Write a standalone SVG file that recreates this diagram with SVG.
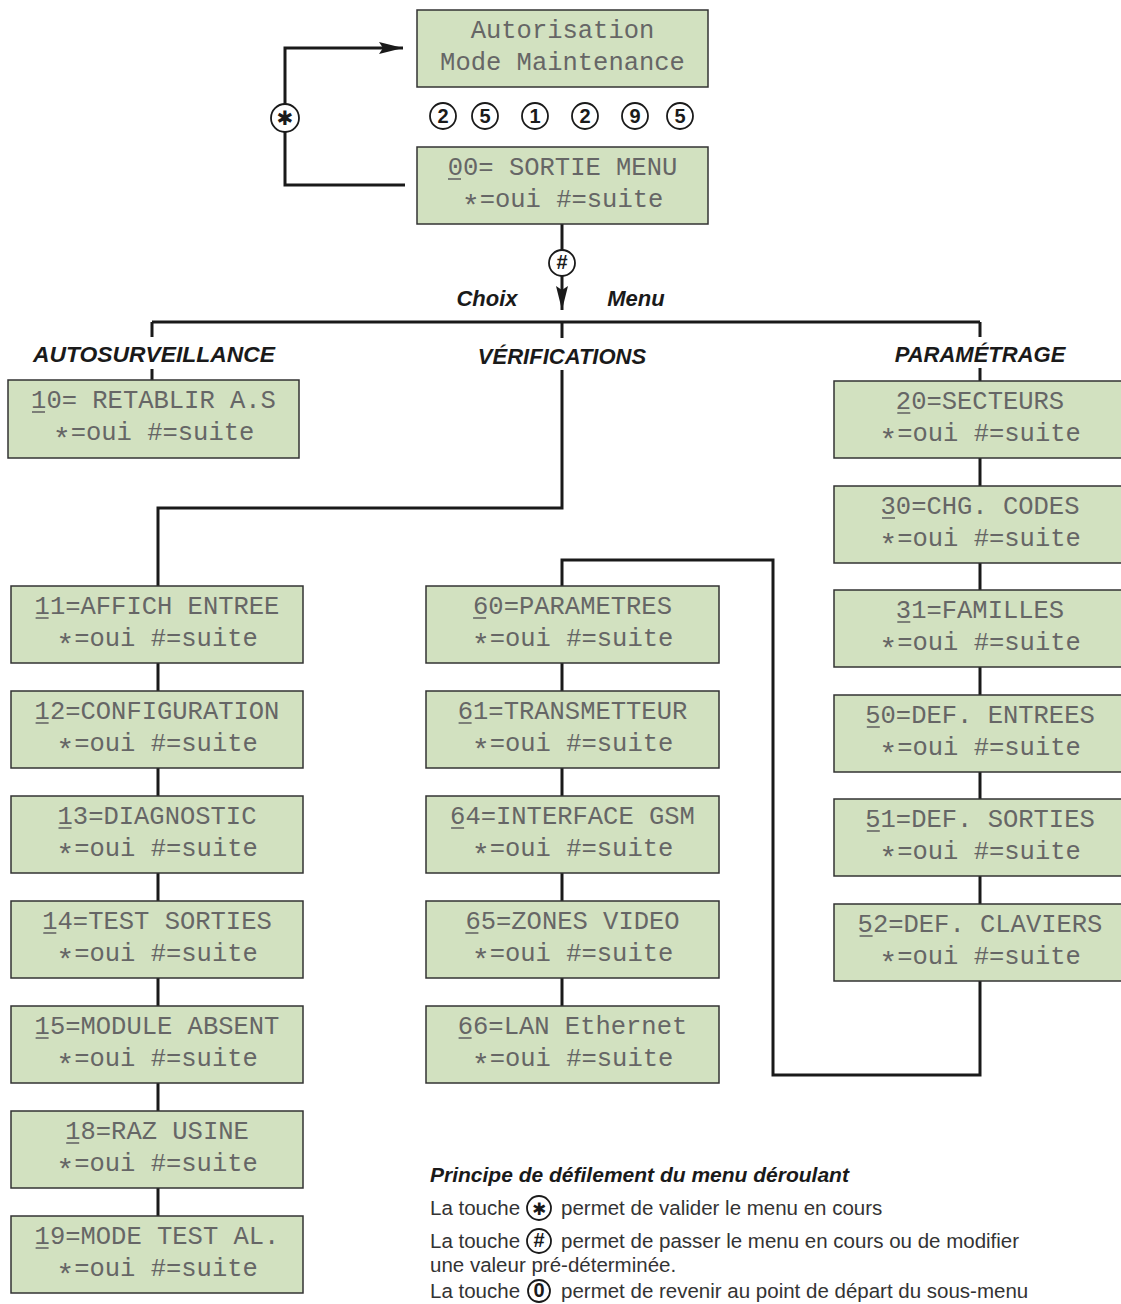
<svg xmlns="http://www.w3.org/2000/svg" width="1121" height="1304" viewBox="0 0 1121 1304">
<style>
.box{fill:#d2e1c0;stroke:#333;stroke-width:1.5}
.lcd{font-family:"Liberation Mono","DejaVu Sans Mono",monospace;font-size:25.5px;fill:#666;text-anchor:middle}
.ast{font-size:30px}
.ul{stroke:#666;stroke-width:1.6}
.con{fill:none;stroke:#1a1a1a;stroke-width:3}
.hd{font-family:"Liberation Sans",Arial,sans-serif;font-weight:bold;font-style:italic;font-size:22px;fill:#1a1a1a;text-anchor:middle}
.key{fill:#fff;stroke:#1a1a1a;stroke-width:1.8}
.kt{font-family:"Liberation Sans",Arial,sans-serif;font-weight:bold;font-size:20px;fill:#1a1a1a;text-anchor:middle}
.body{font-family:"Liberation Sans",Arial,sans-serif;font-size:20.5px;fill:#333}
.bt{font-family:"Liberation Sans",Arial,sans-serif;font-size:21px;font-weight:bold;font-style:italic;fill:#1a1a1a}
</style>
<defs>
<marker id="ah" viewBox="0 0 24 12" refX="24" refY="6" markerWidth="24" markerHeight="12" markerUnits="userSpaceOnUse" orient="auto">
<path d="M0,0 L24,6 L0,12 L4,6 Z" fill="#1a1a1a"/>
</marker>
</defs>

<g id="connectors">
<path class="con" d="M405,185 H285 V48 H403" marker-end="url(#ah)"/>
<path class="con" d="M562,224 V250"/>
<path class="con" d="M562,276 V310" marker-end="url(#ah)"/>
<path class="con" d="M152,322 H980"/>
<path class="con" d="M562,322 V338"/>
<path class="con" d="M152,322 V337 M152,369 V380"/>
<path class="con" d="M980,322 V337 M980,368 V381"/>
<path class="con" d="M562,370 V508 H158 V586"/>
<path class="con" d="M158,663 V691 M158,768 V796 M158,873 V901 M158,978 V1006 M158,1083 V1111 M158,1188 V1216"/>
<path class="con" d="M562,663 V691 M562,768 V796 M562,873 V901 M562,978 V1006"/>
<path class="con" d="M562,586 V560 H773 V1075 H980 V981"/>
<path class="con" d="M980,458 V486 M980,563 V590 M980,667 V695 M980,772 V799 M980,876 V904"/>
</g>

<g id="key-star">
<circle class="key" cx="285" cy="118" r="14"/>
<text x="285" y="125" font-family="DejaVu Sans,sans-serif" font-size="20" font-weight="bold" text-anchor="middle" fill="#1a1a1a">✱</text>
</g>
<g id="key-hash">
<circle class="key" cx="562" cy="263" r="13"/>
<text class="kt" x="562" y="269" font-size="16">#</text>
</g>

<g id="code-digits">
<circle class="key" cx="443" cy="116" r="13"/><text class="kt" x="443" y="123">2</text>
<circle class="key" cx="485" cy="116" r="13"/><text class="kt" x="485" y="123">5</text>
<circle class="key" cx="535" cy="116" r="13"/><text class="kt" x="535" y="123">1</text>
<circle class="key" cx="585" cy="116" r="13"/><text class="kt" x="585" y="123">2</text>
<circle class="key" cx="635" cy="116" r="13"/><text class="kt" x="635" y="123">9</text>
<circle class="key" cx="680" cy="116" r="13"/><text class="kt" x="680" y="123">5</text>
</g>

<g id="labels">
<text class="hd" x="487" y="306">Choix</text>
<text class="hd" x="636" y="306">Menu</text>
<text class="hd" x="154" y="362" textLength="242" lengthAdjust="spacingAndGlyphs">AUTOSURVEILLANCE</text>
<text class="hd" x="562" y="364">VÉRIFICATIONS</text>
<text class="hd" x="980" y="362">PARAMÉTRAGE</text>
</g>

<g id="n-auth">
<rect class="box" x="417" y="10" width="291" height="77"/>
<text class="lcd" x="562.5" y="38">Autorisation</text>
<text class="lcd" x="562.5" y="70">Mode Maintenance</text>
</g>
<g id="n-00">
<rect class="box" x="417" y="147" width="291" height="77"/>
<text class="lcd" x="562.5" y="175">00= SORTIE MENU</text>
<line class="ul" x1="448" y1="179" x2="461" y2="179"/>
<text class="lcd" x="562.5" y="207"><tspan class="ast" dy="9">*</tspan><tspan dy="-9">=oui #=suite</tspan></text>
</g>

<g id="n-10">
<rect class="box" x="8" y="380" width="291" height="78"/>
<text class="lcd" x="153.5" y="408">10= RETABLIR A.S</text>
<line class="ul" x1="32" y1="412" x2="45" y2="412"/>
<text class="lcd" x="153.5" y="440"><tspan class="ast" dy="9">*</tspan><tspan dy="-9">=oui #=suite</tspan></text>
</g>
<g id="n-11">
<rect class="box" x="11" y="586" width="292" height="77"/>
<text class="lcd" x="157" y="614">11=AFFICH ENTREE</text>
<line class="ul" x1="35.6" y1="618" x2="48.6" y2="618"/>
<text class="lcd" x="157" y="646"><tspan class="ast" dy="9">*</tspan><tspan dy="-9">=oui #=suite</tspan></text>
</g>
<g id="n-12">
<rect class="box" x="11" y="691" width="292" height="77"/>
<text class="lcd" x="157" y="719">12=CONFIGURATION</text>
<line class="ul" x1="35.6" y1="723" x2="48.6" y2="723"/>
<text class="lcd" x="157" y="751"><tspan class="ast" dy="9">*</tspan><tspan dy="-9">=oui #=suite</tspan></text>
</g>
<g id="n-13">
<rect class="box" x="11" y="796" width="292" height="77"/>
<text class="lcd" x="157" y="824">13=DIAGNOSTIC</text>
<line class="ul" x1="58.5" y1="828" x2="71.5" y2="828"/>
<text class="lcd" x="157" y="856"><tspan class="ast" dy="9">*</tspan><tspan dy="-9">=oui #=suite</tspan></text>
</g>
<g id="n-14">
<rect class="box" x="11" y="901" width="292" height="77"/>
<text class="lcd" x="157" y="929">14=TEST SORTIES</text>
<line class="ul" x1="43.3" y1="933" x2="56.3" y2="933"/>
<text class="lcd" x="157" y="961"><tspan class="ast" dy="9">*</tspan><tspan dy="-9">=oui #=suite</tspan></text>
</g>
<g id="n-15">
<rect class="box" x="11" y="1006" width="292" height="77"/>
<text class="lcd" x="157" y="1034">15=MODULE ABSENT</text>
<line class="ul" x1="35.6" y1="1038" x2="48.6" y2="1038"/>
<text class="lcd" x="157" y="1066"><tspan class="ast" dy="9">*</tspan><tspan dy="-9">=oui #=suite</tspan></text>
</g>
<g id="n-18">
<rect class="box" x="11" y="1111" width="292" height="77"/>
<text class="lcd" x="157" y="1139">18=RAZ USINE</text>
<line class="ul" x1="66.2" y1="1143" x2="79.2" y2="1143"/>
<text class="lcd" x="157" y="1171"><tspan class="ast" dy="9">*</tspan><tspan dy="-9">=oui #=suite</tspan></text>
</g>
<g id="n-19">
<rect class="box" x="11" y="1216" width="292" height="77"/>
<text class="lcd" x="157" y="1244">19=MODE TEST AL.</text>
<line class="ul" x1="35.6" y1="1248" x2="48.6" y2="1248"/>
<text class="lcd" x="157" y="1276"><tspan class="ast" dy="9">*</tspan><tspan dy="-9">=oui #=suite</tspan></text>
</g>

<g id="n-60">
<rect class="box" x="426" y="586" width="293" height="77"/>
<text class="lcd" x="572.5" y="614">60=PARAMETRES</text>
<line class="ul" x1="473.1" y1="618" x2="486.1" y2="618"/>
<text class="lcd" x="572.5" y="646"><tspan class="ast" dy="9">*</tspan><tspan dy="-9">=oui #=suite</tspan></text>
</g>
<g id="n-61">
<rect class="box" x="426" y="691" width="293" height="77"/>
<text class="lcd" x="572.5" y="719">61=TRANSMETTEUR</text>
<line class="ul" x1="458.6" y1="723" x2="471.6" y2="723"/>
<text class="lcd" x="572.5" y="751"><tspan class="ast" dy="9">*</tspan><tspan dy="-9">=oui #=suite</tspan></text>
</g>
<g id="n-64">
<rect class="box" x="426" y="796" width="293" height="77"/>
<text class="lcd" x="572.5" y="824">64=INTERFACE GSM</text>
<line class="ul" x1="451.1" y1="828" x2="464.1" y2="828"/>
<text class="lcd" x="572.5" y="856"><tspan class="ast" dy="9">*</tspan><tspan dy="-9">=oui #=suite</tspan></text>
</g>
<g id="n-65">
<rect class="box" x="426" y="901" width="293" height="77"/>
<text class="lcd" x="572.5" y="929">65=ZONES VIDEO</text>
<line class="ul" x1="465.4" y1="933" x2="478.4" y2="933"/>
<text class="lcd" x="572.5" y="961"><tspan class="ast" dy="9">*</tspan><tspan dy="-9">=oui #=suite</tspan></text>
</g>
<g id="n-66">
<rect class="box" x="426" y="1006" width="293" height="77"/>
<text class="lcd" x="572.5" y="1034">66=LAN Ethernet</text>
<line class="ul" x1="458.6" y1="1038" x2="471.6" y2="1038"/>
<text class="lcd" x="572.5" y="1066"><tspan class="ast" dy="9">*</tspan><tspan dy="-9">=oui #=suite</tspan></text>
</g>

<g id="n-20">
<rect class="box" x="834" y="381" width="292" height="77"/>
<text class="lcd" x="980" y="409">20=SECTEURS</text>
<line class="ul" x1="897.3" y1="413" x2="910.3" y2="413"/>
<text class="lcd" x="980" y="441"><tspan class="ast" dy="9">*</tspan><tspan dy="-9">=oui #=suite</tspan></text>
</g>
<g id="n-30">
<rect class="box" x="834" y="486" width="292" height="77"/>
<text class="lcd" x="980" y="514">30=CHG. CODES</text>
<line class="ul" x1="882" y1="518" x2="895" y2="518"/>
<text class="lcd" x="980" y="546"><tspan class="ast" dy="9">*</tspan><tspan dy="-9">=oui #=suite</tspan></text>
</g>
<g id="n-31">
<rect class="box" x="834" y="590" width="292" height="77"/>
<text class="lcd" x="980" y="618">31=FAMILLES</text>
<line class="ul" x1="897.3" y1="622" x2="910.3" y2="622"/>
<text class="lcd" x="980" y="650"><tspan class="ast" dy="9">*</tspan><tspan dy="-9">=oui #=suite</tspan></text>
</g>
<g id="n-50">
<rect class="box" x="834" y="695" width="292" height="77"/>
<text class="lcd" x="980" y="723">50=DEF. ENTREES</text>
<line class="ul" x1="866.8" y1="727" x2="879.8" y2="727"/>
<text class="lcd" x="980" y="755"><tspan class="ast" dy="9">*</tspan><tspan dy="-9">=oui #=suite</tspan></text>
</g>
<g id="n-51">
<rect class="box" x="834" y="799" width="292" height="77"/>
<text class="lcd" x="980" y="827">51=DEF. SORTIES</text>
<line class="ul" x1="866.8" y1="831" x2="879.8" y2="831"/>
<text class="lcd" x="980" y="859"><tspan class="ast" dy="9">*</tspan><tspan dy="-9">=oui #=suite</tspan></text>
</g>
<g id="n-52">
<rect class="box" x="834" y="904" width="292" height="77"/>
<text class="lcd" x="980" y="932">52=DEF. CLAVIERS</text>
<line class="ul" x1="859.6" y1="936" x2="872.6" y2="936"/>
<text class="lcd" x="980" y="964"><tspan class="ast" dy="9">*</tspan><tspan dy="-9">=oui #=suite</tspan></text>
</g>

<g id="legend">
<text class="bt" x="430" y="1182">Principe de défilement du menu déroulant</text>
<text class="body" x="430" y="1215">La touche</text>
<circle class="key" cx="539" cy="1208" r="12"/>
<text x="539" y="1215" font-family="DejaVu Sans,sans-serif" font-size="17" font-weight="bold" text-anchor="middle" fill="#1a1a1a">✱</text>
<text class="body" x="561" y="1215">permet de valider le menu en cours</text>
<text class="body" x="430" y="1248">La touche</text>
<circle class="key" cx="539" cy="1241" r="12"/>
<text class="kt" x="539" y="1247" font-size="15">#</text>
<text class="body" x="561" y="1248">permet de passer le menu en cours ou de modifier</text>
<text class="body" x="430" y="1272">une valeur pré-déterminée.</text>
<text class="body" x="430" y="1298">La touche</text>
<circle class="key" cx="539" cy="1291" r="11"/>
<text class="kt" x="539" y="1297" font-size="15">0</text>
<text class="body" x="561" y="1298">permet de revenir au point de départ du sous-menu</text>
</g>
</svg>
